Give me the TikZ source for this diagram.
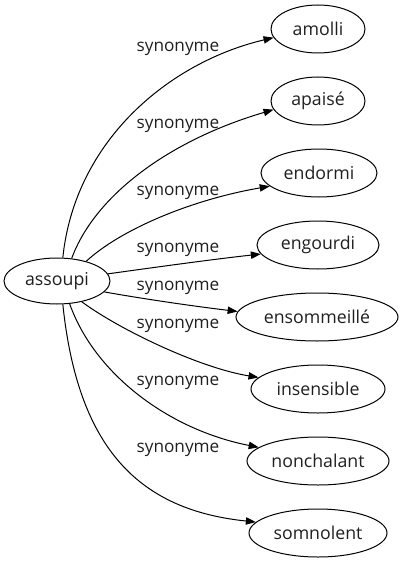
\documentclass[tikz,border=0pt]{standalone}
\usepackage{fontspec}
\setmainfont{Open Sans}
\usetikzlibrary{shapes.geometric,arrows.meta}
\begin{document}
\begin{tikzpicture}[x=0.75pt,y=-0.75pt,
  word/.style={ellipse,draw,line width=0.75pt,inner sep=0pt,minimum height=36pt,
    font=\fontsize{13.3}{15}\selectfont,text=black!88},
  syn/.style={font=\fontsize{12.9}{15}\selectfont,text=black!88,inner sep=0pt},
  link/.style={line width=0.75pt,-{Triangle[length=7.5pt,width=5.5pt]}}]
\useasboundingbox (0,0) rectangle (405,563);
\node[word,minimum width=79.5pt,minimum height=34.5pt] (assoupi) at (57,281) {assoupi};
\node[word,minimum width=70.5pt] (amolli) at (318,29) {amolli};
\node[word,minimum width=70.5pt] (apaise) at (318,101) {apaisé};
\node[word,minimum width=87pt] (endormi) at (319,173) {endormi};
\node[word,minimum width=91.5pt] (engourdi) at (318,245) {engourdi};
\node[word,minimum width=121.5pt] (ensommeille) at (317,317) {ensommeillé};
\node[word,minimum width=100.5pt] (insensible) at (318,389) {insensible};
\node[word,minimum width=106.5pt] (nonchalant) at (318,461) {nonchalant};
\node[word,minimum width=103.5pt] (somnolent) at (318,533) {somnolent};

\draw[link] (assoupi.76) .. controls (75,140) and (170,62) .. (amolli.191);
\draw[link] (assoupi.57) .. controls (95,195) and (170,140) .. (apaise.191);
\draw[link] (assoupi.34) .. controls (120,230) and (190,200) .. (endormi.195);
\draw[link] (assoupi.8.6) .. controls (150,268) and (215,259) .. (engourdi.189.5);
\draw[link] (assoupi.-13) .. controls (150,300) and (200,307) .. (ensommeille.176.4);
\draw[link] (assoupi.-40) .. controls (120,330) and (200,368) .. (insensible.169.6);
\draw[link] (assoupi.-61) .. controls (95,375) and (170,430) .. (nonchalant.167);
\draw[link] (assoupi.-76) .. controls (78,450) and (140,510) .. (somnolent.170);

\node[syn] (l1) at (178,49) {synonyme};
\node[syn] (l2) at (178,126) {synonyme};
\node[syn] (l3) at (178,193) {synonyme};
\node[syn] (l4) at (178,250) {synonyme};
\node[syn] (l5) at (178,288) {synonyme};
\node[syn] (l6) at (178,326) {synonyme};
\node[syn] (l7) at (178,383) {synonyme};
\node[syn] (l8) at (178,450) {synonyme};
\end{tikzpicture}
\end{document}
